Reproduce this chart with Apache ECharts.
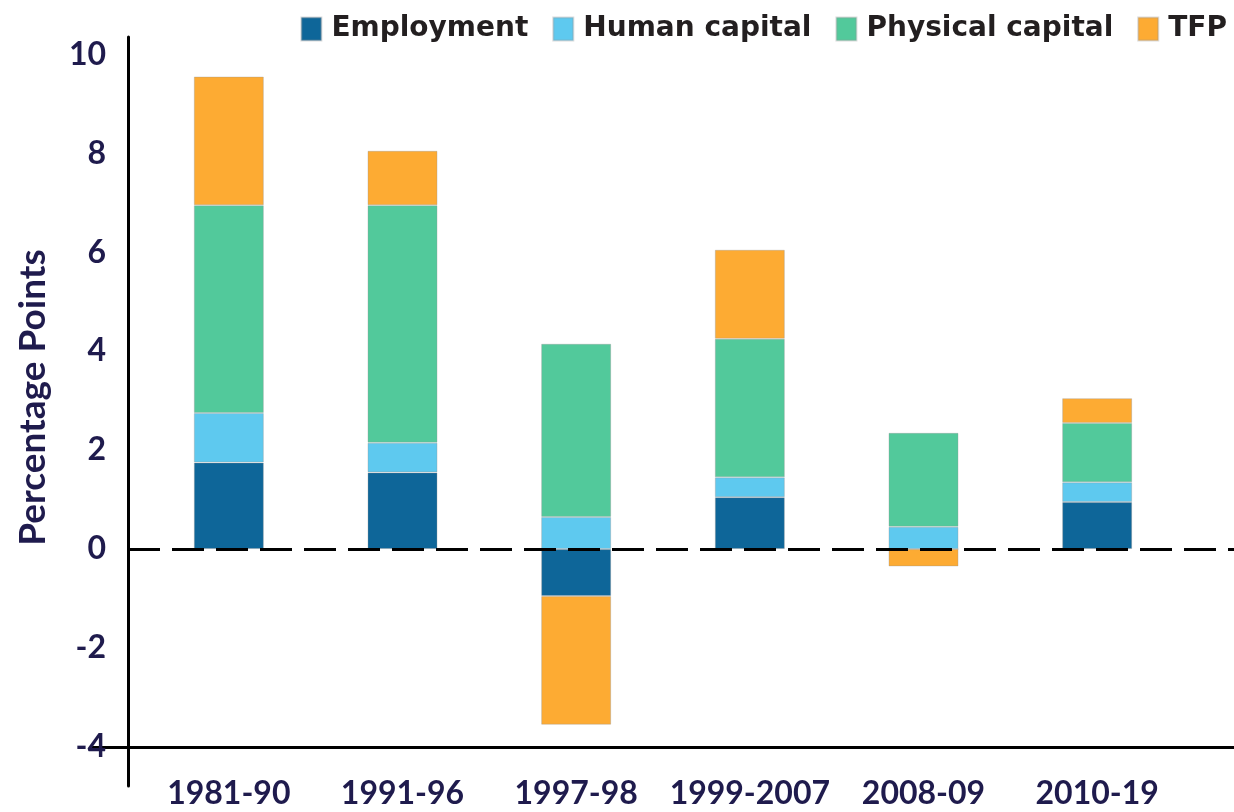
<!DOCTYPE html>
<html>
<head>
<meta charset="utf-8">
<script src="https://cdn.jsdelivr.net/npm/echarts@6/dist/echarts.min.js"></script>
<style>
  html, body { margin: 0; padding: 0; background: #fff; }
  #chart { width: 1234px; height: 812px; }
</style>
</head>
<body>
<div id="chart"></div>
<script>
// periods and growth contributions (percentage points)
const periods = ['1981-90', '1991-96', '1997-98', '1999-2007', '2008-09', '2010-19'];
const employment = [1.75, 1.55, -0.95, 1.05, 0, 0.95];
const humanCapital = [1.0, 0.6, 0.65, 0.4, 0.45, 0.4];
const physicalCapital = [4.2, 4.8, 3.5, 2.8, 1.9, 1.2];
const tfp = [2.6, 1.1, -2.6, 1.8, -0.35, 0.5];
const yTicks = [-4, -2, 0, 2, 4, 6, 8, 10];

const navy = '#1f1b4d';
const labelFont = 'Lato';

let chart = echarts.init(document.getElementById('chart'));

const mkBar = (name, data, color) => ({
  name: name,
  type: 'bar',
  stack: 'total',
  xAxisIndex: 0,
  yAxisIndex: 0,
  barWidth: 70,
  data: data,
  itemStyle: {
    color: color,
    borderColor: 'rgba(150,150,150,0.35)',
    borderWidth: 1
  }
});

const option = {
  animation: false,
  backgroundColor: '#fff',
  legend: {
    right: 2,
    top: 10,
    itemWidth: 20,
    itemHeight: 23,
    itemGap: 24,
    icon: 'rect',
    data: ['Employment', 'Human capital', 'Physical capital', 'TFP'],
    textStyle: {
      fontFamily: 'DejaVu Sans',
      fontWeight: 'bold',
      fontSize: 28,
      color: '#231f20',
      padding: [0, 0, 0, 5]
    }
  },
  grid: [
    // bars
    { left: 142, right: 50, top: 37, bottom: 65, outerBoundsMode: 'none', containLabel: false },
    // axis frame + reference lines
    { left: 128, right: 0, top: 37, bottom: 26, outerBoundsMode: 'none', containLabel: false }
  ],
  xAxis: [{
    type: 'category',
    gridIndex: 0,
    data: periods,
    axisLine: { show: false },
    axisTick: { show: false },
    axisLabel: {
      interval: 0,
      margin: 31,
      fontFamily: labelFont,
      fontWeight: 'bold',
      fontSize: 32,
      color: navy
    }
  }, {
    type: 'value',
    gridIndex: 1,
    min: 0,
    max: 1,
    show: false
  }],
  yAxis: [{
    type: 'value',
    gridIndex: 0,
    min: -4,
    max: 10.35,
    show: false
  }, {
    type: 'value',
    gridIndex: 1,
    min: -4.79,
    max: 10.35,
    name: 'Percentage Points',
    nameLocation: 'middle',
    nameGap: 76,
    nameTextStyle: {
      fontFamily: labelFont,
      fontWeight: 'bold',
      fontSize: 37,
      color: navy,
      padding: [0, 0, 0, 28]
    },
    splitLine: { show: false },
    axisLine: { show: true, lineStyle: { color: '#000', width: 3 } },
    axisTick: {
      show: true,
      customValues: [-4],
      length: 36,
      lineStyle: { color: '#000', width: 3 }
    },
    axisLabel: {
      customValues: yTicks,
      margin: 22,
      fontFamily: labelFont,
      fontWeight: 'bold',
      fontSize: 32,
      color: navy
    }
  }],
  series: [
    mkBar('Employment', employment, '#0e6699'),
    mkBar('Human capital', humanCapital, '#5ec9ef'),
    mkBar('Physical capital', physicalCapital, '#52c99b'),
    mkBar('TFP', tfp, '#fdab33'),
    {
      name: 'ref',
      type: 'line',
      xAxisIndex: 1,
      yAxisIndex: 1,
      data: [],
      z: 10,
      markLine: {
        silent: true,
        symbol: 'none',
        label: { show: false },
        z: 10,
        data: [
          { yAxis: 0, lineStyle: { color: '#000', width: 3, type: [32, 12] } },
          { yAxis: -4, lineStyle: { color: '#000', width: 3, type: 'solid' } }
        ]
      }
    }
  ]
};

chart.setOption(option);
</script>
</body>
</html>
